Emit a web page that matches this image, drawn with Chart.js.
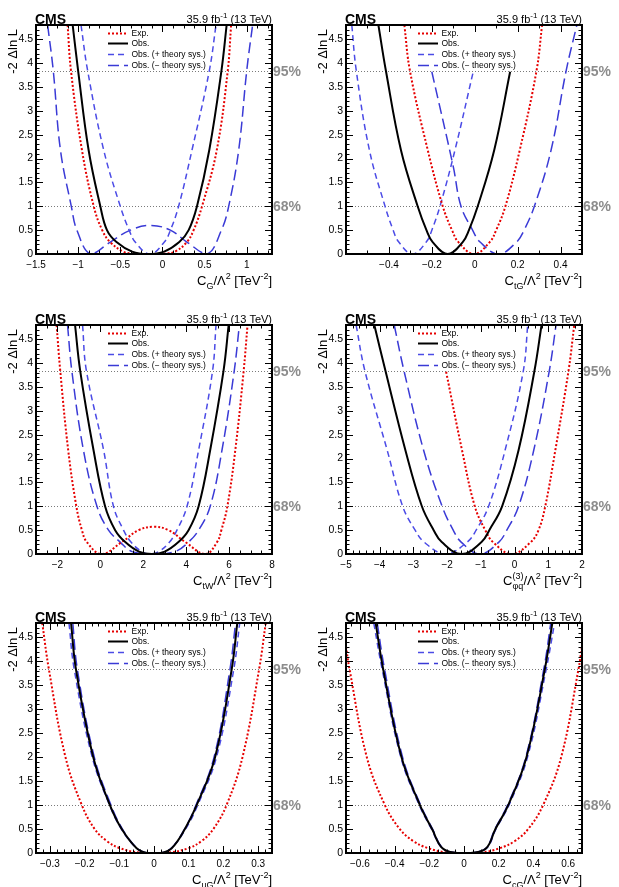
<!DOCTYPE html>
<html lang="en">
  <head>
    <meta charset="UTF-8" />
    <title>CMS likelihood scans of EFT coefficients</title>
    <script src="https://cdn.jsdelivr.net/npm/chart.js"></script>
    <style>
      body { margin: 0; background: #fff; }
      .page { position: relative; width: 619px; height: 887px; overflow: hidden; }
      .page canvas { position: absolute; }
    </style>
  </head>
  <body>
    <div class="page">
      <canvas id="cG" width="310" height="300" style="left:0px;top:0px"></canvas>
      <canvas id="ctG" width="309" height="300" style="left:310px;top:0px"></canvas>
      <canvas id="ctW" width="310" height="296" style="left:0px;top:296px"></canvas>
      <canvas id="cphiq" width="309" height="296" style="left:310px;top:296px"></canvas>
      <canvas id="cuG" width="310" height="297" style="left:0px;top:590px"></canvas>
      <canvas id="ccG" width="309" height="297" style="left:310px;top:590px"></canvas>
    </div>

    <script>
      // -2 delta ln L scans
      // C_G
      const cgExpX = [-1.125, -1.085, -0.955, -0.815, -0.715, -0.62, -0.465, -0.365, -0.165, 0.035, 0.15, 0.29, 0.37, 0.47, 0.645, 0.775, 0.815];
      const cgExpY = [4.8, 3.84, 2.18, 1.0, 0.5, 0.25, 0.05, 0.01, 0.0, 0.01, 0.05, 0.25, 0.5, 1.0, 2.18, 3.84, 4.8];
      const cgObsX = [-1.065, -1.0, -0.876, -0.737, -0.658, -0.545, -0.36, -0.17, 0.02, 0.2, 0.311, 0.41, 0.556, 0.7, 0.762];
      const cgObsY = [4.8, 3.84, 2.18, 1.0, 0.5, 0.25, 0.05, 0.0, 0.05, 0.25, 0.5, 1.0, 2.18, 3.84, 4.8];
      const cgPlusX = [-0.966, -0.887, -0.697, -0.5, -0.395, -0.323, -0.15, 0.023, 0.095, 0.192, 0.351, 0.556, 0.636];
      const cgPlusY = [4.8, 3.84, 2.18, 1.0, 0.5, 0.25, 0.0, 0.25, 0.5, 1.0, 2.18, 3.84, 4.8];
      const cgMinusX = [-1.362, -1.295, -1.21, -1.081, -1.015, -0.85, -0.618, -0.38, -0.14, 0.094, 0.29, 0.53, 0.7, 0.786, 0.905, 1.0, 1.07];
      const cgMinusY = [4.8, 3.84, 2.18, 1.0, 0.5, 0.0, 0.25, 0.5, 0.6, 0.5, 0.25, 0.0, 0.5, 1.0, 2.18, 3.84, 4.8];

      // C_tG
      const ctgExpX = [-0.328, -0.302, -0.219, -0.149, -0.106, -0.076, -0.003, 0.07, 0.1, 0.143, 0.21, 0.288, 0.314];
      const ctgExpY = [4.8, 3.84, 2.18, 1.0, 0.5, 0.25, 0.0, 0.25, 0.5, 1.0, 2.18, 3.84, 4.8];
      const ctgObsX = [-0.449, -0.414, -0.344, -0.266, -0.225, -0.196, -0.126, -0.056, -0.027, 0.014, 0.091, 0.165];
      const ctgObsY = [4.8, 3.84, 2.18, 1.0, 0.5, 0.25, 0.0, 0.25, 0.5, 1.0, 2.18, 3.82];
      const ctgPlusX = [-0.573, -0.552, -0.491, -0.418, -0.38, -0.354, -0.29, -0.226, -0.2, -0.162, -0.092, -0.007];
      const ctgPlusY = [4.8, 3.84, 2.18, 1.0, 0.5, 0.25, 0.0, 0.25, 0.5, 1.0, 2.18, 3.82];
      const ctgMinusX = [-0.2, -0.1, -0.064, -0.01, 0.025, 0.11, 0.195, 0.23, 0.278, 0.356, 0.426, 0.476];
      const ctgMinusY = [3.82, 1.83, 1.0, 0.5, 0.25, 0.0, 0.25, 0.5, 1.0, 2.18, 3.84, 4.8];

      // C_tW
      const ctwExpX = [-2.04, -1.87, -1.5, -1.12, -0.86, -0.63, 0.05, 1.0, 1.78, 2.48, 3.18, 3.96, 4.9, 5.44, 5.64, 5.92, 6.29, 6.68, 6.86];
      const ctwExpY = [4.8, 3.84, 2.18, 1.0, 0.5, 0.25, 0.0, 0.25, 0.5, 0.57, 0.5, 0.25, 0.0, 0.25, 0.5, 1.0, 2.18, 3.84, 4.8];
      const ctwObsX = [-1.18, -0.94, -0.32, 0.22, 0.69, 1.16, 1.8, 2.4, 3.0, 3.64, 4.11, 4.58, 5.12, 5.74, 5.98];
      const ctwObsY = [4.8, 3.84, 2.18, 1.0, 0.5, 0.25, 0.05, 0.0, 0.05, 0.25, 0.5, 1.0, 2.18, 3.84, 4.8];
      const ctwPlusX = [-0.83, -0.65, 0.15, 0.61, 1.08, 1.425, 1.93, 2.325, 2.72, 3.225, 3.57, 4.04, 4.58, 5.23, 5.39];
      const ctwPlusY = [4.8, 3.84, 2.18, 1.0, 0.5, 0.25, 0.05, 0.0, 0.05, 0.25, 0.5, 1.0, 2.18, 3.84, 4.8];
      const ctwMinusX = [-1.53, -1.33, -0.79, -0.16, 0.38, 0.92, 1.48, 2.48, 3.48, 4.11, 4.58, 5.12, 5.67, 6.24, 6.48];
      const ctwMinusY = [4.8, 3.84, 2.18, 1.0, 0.5, 0.25, 0.05, 0.0, 0.05, 0.25, 0.5, 1.0, 2.18, 3.84, 4.8];

      // C_phiq(3)
      const cpqExpX = [-2.03, -1.56, -1.18, -0.87, -0.64, -0.08, 0.48, 0.71, 0.91, 1.21, 1.6, 1.77];
      const cpqExpY = [3.82, 2.18, 1.0, 0.5, 0.25, 0.0, 0.25, 0.5, 1.0, 2.18, 3.84, 4.8];
      const cpqObsX = [-4.16, -3.83, -3.24, -2.75, -2.4, -2.16, -1.57, -0.98, -0.75, -0.37, 0.12, 0.59, 0.8];
      const cpqObsY = [4.8, 3.84, 2.18, 1.0, 0.5, 0.25, 0.0, 0.25, 0.5, 1.0, 2.18, 3.84, 4.8];
      const cpqPlusX = [-4.7, -4.44, -3.78, -3.32, -2.95, -2.685, -2.045, -1.405, -1.14, -0.77, -0.28, 0.26, 0.39];
      const cpqPlusY = [4.8, 3.84, 2.18, 1.0, 0.5, 0.25, 0.0, 0.25, 0.5, 1.0, 2.18, 3.84, 4.8];
      const cpqMinusX = [-3.57, -3.28, -2.7, -2.15, -1.82, -1.585, -1.025, -0.465, -0.23, 0.12, 0.57, 1.03, 1.23];
      const cpqMinusY = [4.8, 3.84, 2.18, 1.0, 0.5, 0.25, 0.0, 0.25, 0.5, 1.0, 2.18, 3.84, 4.8];

      // C_uG
      const cugExpX = [-0.322, -0.303, -0.255, -0.208, -0.171, -0.136, -0.098, -0.045, 0.0, 0.045, 0.099, 0.137, 0.171, 0.209, 0.255, 0.303, 0.322];
      const cugExpY = [4.8, 3.84, 2.0, 1.0, 0.5, 0.25, 0.1, 0.01, 0.0, 0.01, 0.1, 0.25, 0.5, 1.0, 2.0, 3.84, 4.8];
      const cugObsX = [-0.239, -0.225, -0.175, -0.127, -0.093, -0.05, -0.02, 0.02, 0.051, 0.089, 0.123, 0.176, 0.224, 0.24];
      const cugObsY = [4.8, 3.84, 2.0, 1.0, 0.5, 0.1, 0.0, 0.0, 0.1, 0.5, 1.0, 2.0, 3.84, 4.8];
      const cugPlusX = [-0.245, -0.23, -0.178, -0.128, -0.094, -0.05, -0.02, 0.02, 0.05, 0.091, 0.126, 0.18, 0.23, 0.247];
      const cugPlusY = [4.8, 3.84, 2.0, 1.0, 0.5, 0.1, 0.0, 0.0, 0.1, 0.5, 1.0, 2.0, 3.84, 4.8];
      const cugMinusX = [-0.234, -0.221, -0.172, -0.124, -0.091, -0.049, -0.02, 0.02, 0.05, 0.088, 0.121, 0.173, 0.219, 0.235];
      const cugMinusY = [4.8, 3.84, 2.0, 1.0, 0.5, 0.1, 0.0, 0.0, 0.1, 0.5, 1.0, 2.0, 3.84, 4.8];

      // C_cG
      const ccgExpX = [-0.68, -0.66, -0.56, -0.456, -0.37, -0.293, -0.206, -0.1, 0.0, 0.1, 0.206, 0.293, 0.37, 0.456, 0.56, 0.66, 0.68];
      const ccgExpY = [4.31, 3.84, 2.0, 1.0, 0.5, 0.25, 0.1, 0.01, 0.0, 0.01, 0.1, 0.25, 0.5, 1.0, 2.0, 3.84, 4.31];
      const ccgObsX = [-0.509, -0.466, -0.36, -0.254, -0.184, -0.124, -0.04, 0.04, 0.128, 0.181, 0.255, 0.36, 0.466, 0.509];
      const ccgObsY = [4.8, 3.84, 2.0, 1.0, 0.5, 0.1, 0.0, 0.0, 0.1, 0.5, 1.0, 2.0, 3.84, 4.8];
      const ccgPlusX = [-0.52, -0.472, -0.364, -0.258, -0.187, -0.125, -0.04, 0.04, 0.13, 0.184, 0.259, 0.366, 0.474, 0.522];
      const ccgPlusY = [4.8, 3.84, 2.0, 1.0, 0.5, 0.1, 0.0, 0.0, 0.1, 0.5, 1.0, 2.0, 3.84, 4.8];
      const ccgMinusX = [-0.5, -0.458, -0.354, -0.25, -0.181, -0.122, -0.04, 0.04, 0.126, 0.178, 0.251, 0.356, 0.46, 0.5];
      const ccgMinusY = [4.8, 3.84, 2.0, 1.0, 0.5, 0.1, 0.0, 0.0, 0.1, 0.5, 1.0, 2.0, 3.84, 4.8];

      // confidence level lines
      const clLevels = [3.84, 1];
      const clLabels = ["95%", "68%"];

      const legendLabels = ["Exp.", "Obs.", "Obs. (+ theory sys.)", "Obs. (\u2212 theory sys.)"];

      // axis titles: [text, mode, stackedSubscript]
      const tail = [["/\u039b"], ["2", "sup"], [" [TeV"], ["-2", "sup"], ["]"]];
      const cgTitle = [["C"], ["G", "sub"], ...tail];
      const ctgTitle = [["C"], ["tG", "sub"], ...tail];
      const ctwTitle = [["C"], ["tW", "sub"], ...tail];
      const cpqTitle = [["C"], ["(3)", "stack", "\u03c6q"], ...tail];
      const cugTitle = [["C"], ["uG", "sub"], ...tail];
      const ccgTitle = [["C"], ["cG", "sub"], ...tail];

      const FONT = "'Liberation Sans', Arial, Helvetica, sans-serif";
      Chart.defaults.font.family = FONT;
      Chart.defaults.color = "#000";

      const styles = [
        { borderColor: "#e60000", borderWidth: 2, borderDash: [2, 2], order: 1 },
        { borderColor: "#000000", borderWidth: 2, borderDash: [], order: 0 },
        { borderColor: "#4b4be6", borderWidth: 1.5, borderDash: [6, 4], order: 2 },
        { borderColor: "#3a3ad6", borderWidth: 1.5, borderDash: [11, 5], order: 3 },
      ];

      const panels = [
        { id: "cG", top: 25, bottom: 254, xMin: -1.5, xMax: 1.3, step: 0.5, minor: 4, title: cgTitle,
          curves: [[cgExpX, cgExpY], [cgObsX, cgObsY], [cgPlusX, cgPlusY], [cgMinusX, cgMinusY]] },
        { id: "ctG", top: 25, bottom: 254, xMin: -0.6, xMax: 0.5, step: 0.2, minor: 2, title: ctgTitle,
          curves: [[ctgExpX, ctgExpY], [ctgObsX, ctgObsY], [ctgPlusX, ctgPlusY], [ctgMinusX, ctgMinusY]] },
        { id: "ctW", top: 29, bottom: 258, xMin: -3, xMax: 8, step: 2, minor: 4, title: ctwTitle,
          curves: [[ctwExpX, ctwExpY], [ctwObsX, ctwObsY], [ctwPlusX, ctwPlusY], [ctwMinusX, ctwMinusY]] },
        { id: "cphiq", top: 29, bottom: 258, xMin: -5, xMax: 2, step: 1, minor: 5, title: cpqTitle,
          curves: [[cpqExpX, cpqExpY], [cpqObsX, cpqObsY], [cpqPlusX, cpqPlusY], [cpqMinusX, cpqMinusY]] },
        { id: "cuG", top: 33, bottom: 263, xMin: -0.34, xMax: 0.34, step: 0.1, minor: 5, title: cugTitle,
          curves: [[cugExpX, cugExpY], [cugObsX, cugObsY], [cugPlusX, cugPlusY], [cugMinusX, cugMinusY]] },
        { id: "ccG", top: 33, bottom: 263, xMin: -0.68, xMax: 0.68, step: 0.2, minor: 4, title: ccgTitle,
          curves: [[ccgExpX, ccgExpY], [ccgObsX, ccgObsY], [ccgPlusX, ccgPlusY], [ccgMinusX, ccgMinusY]] },
      ];

      function fmt(v) {
        const r = Math.round(v * 1000) / 1000;
        if (r === 0) return "0";
        return String(r).replace("-", "\u2212");
      }

      // inward ROOT-style ticks on both sides of an axis
      function drawTicks(ctx, scale, area, minor, horizontal) {
        const major = scale.ticks.map((t) => t.value);
        const step = (major[1] - major[0]) / minor;
        let v = major[0] - Math.floor((major[0] - scale.min) / step + 1e-6) * step;
        ctx.beginPath();
        for (; v <= scale.max + 1e-9; v += step) {
          const isMajor = major.some((m) => Math.abs(m - v) < step * 1e-3);
          const len = isMajor ? 7 : 3.5;
          const p = Math.round(scale.getPixelForValue(v)) + 0.5;
          if (horizontal) {
            ctx.moveTo(p, area.bottom); ctx.lineTo(p, area.bottom - len);
            ctx.moveTo(p, area.top); ctx.lineTo(p, area.top + len);
          } else {
            ctx.moveTo(area.left, p); ctx.lineTo(area.left + len, p);
            ctx.moveTo(area.right, p); ctx.lineTo(area.right - len, p);
          }
        }
        ctx.stroke();
      }

      function drawRich(ctx, parts, xRight, yBase, size) {
        const big = size + "px " + FONT;
        const small = Math.round(size * 0.72) + "px " + FONT;
        const widths = parts.map(([t, mode, sub]) => {
          ctx.font = mode ? small : big;
          let w = ctx.measureText(t).width;
          if (mode === "stack") w = Math.max(w, ctx.measureText(sub).width);
          return w;
        });
        let x = xRight - widths.reduce((a, b) => a + b, 0);
        ctx.textAlign = "left";
        ctx.textBaseline = "alphabetic";
        parts.forEach(([t, mode, sub], i) => {
          ctx.font = mode ? small : big;
          if (!mode) ctx.fillText(t, x, yBase);
          else if (mode === "sub") ctx.fillText(t, x, yBase + size * 0.28);
          else if (mode === "sup") ctx.fillText(t, x, yBase - size * 0.45);
          else {
            ctx.fillText(t, x, yBase - size * 0.5);
            ctx.fillText(sub, x, yBase + size * 0.3);
          }
          x += widths[i];
        });
      }

      function rootLook(p) {
        return {
          id: "rootLook",
          beforeDatasetsDraw(chart) {
            const { ctx, chartArea: a, scales } = chart;
            ctx.save();
            ctx.strokeStyle = "#7a7a7a";
            ctx.lineWidth = 1;
            ctx.setLineDash([1, 2]);
            clLevels.forEach((lvl) => {
              const py = Math.round(scales.y.getPixelForValue(lvl)) + 0.5;
              ctx.beginPath();
              ctx.moveTo(a.left, py);
              ctx.lineTo(a.right, py);
              ctx.stroke();
            });
            ctx.restore();
          },
          afterDraw(chart) {
            const { ctx, chartArea: a, scales } = chart;
            ctx.save();
            // frame + ticks
            ctx.strokeStyle = "#000";
            ctx.lineWidth = 1;
            drawTicks(ctx, scales.x, a, p.minor, true);
            drawTicks(ctx, scales.y, a, 5, false);
            ctx.lineWidth = 2;
            ctx.strokeRect(a.left, a.top, a.right - a.left, a.bottom - a.top);

            // CL labels
            ctx.fillStyle = "#8c8c8c";
            ctx.font = "bold 14px " + FONT;
            ctx.textAlign = "left";
            ctx.textBaseline = "middle";
            clLevels.forEach((lvl, i) => {
              ctx.fillText(clLabels[i], a.right + 1, scales.y.getPixelForValue(lvl) + 1);
            });

            // legend
            ctx.font = "8.5px " + FONT;
            chart.data.datasets.forEach((ds, i) => {
              const ly = Math.round(a.top + 7.5 + i * 10.9) + 0.5;
              ctx.strokeStyle = ds.borderColor;
              ctx.lineWidth = ds.borderWidth;
              ctx.setLineDash(ds.borderDash);
              ctx.beginPath();
              ctx.moveTo(a.left + 72, ly);
              ctx.lineTo(a.left + 92, ly);
              ctx.stroke();
              ctx.fillStyle = "#000";
              ctx.fillText(ds.label, a.left + 95.5, ly);
            });
            ctx.setLineDash([]);

            // CMS + lumi
            ctx.fillStyle = "#000";
            ctx.textBaseline = "alphabetic";
            ctx.font = "bold 14px " + FONT;
            ctx.fillText("CMS", a.left - 1, a.top - 1);
            drawRich(ctx, [["35.9 fb"], ["-1", "sup"], [" (13 TeV)"]], a.right, a.top - 2, 11);

            // axis titles
            drawRich(ctx, p.title, a.right, a.bottom + 31, 13);
            ctx.translate(16.5, a.top + 4);
            ctx.rotate(-Math.PI / 2);
            ctx.font = "13px " + FONT;
            ctx.textAlign = "right";
            ctx.fillText("-2 \u0394ln L", 0, 0);
            ctx.restore();
          },
        };
      }

      panels.forEach((p) => {
        const canvas = document.getElementById(p.id);
        new Chart(canvas, {
          type: "scatter",
          data: {
            datasets: p.curves.map(([xs, ys], i) => ({
              label: legendLabels[i],
              data: xs.map((x, k) => ({ x: x, y: ys[k] })),
              showLine: true,
              pointRadius: 0,
              tension: 0.4,
              clip: 0,
              ...styles[i],
            })),
          },
          options: {
            responsive: false,
            animation: false,
            devicePixelRatio: 1,
            events: [],
            layout: { padding: { left: 6, right: canvas.width - 272, top: p.top, bottom: 0 } },
            plugins: { legend: { display: false }, tooltip: { enabled: false } },
            scales: {
              x: {
                type: "linear",
                min: p.xMin,
                max: p.xMax,
                grid: { display: false, drawTicks: false },
                border: { display: false },
                ticks: { stepSize: p.step, includeBounds: false, autoSkip: false, maxRotation: 0,
                         padding: 5, font: { size: 10 }, callback: fmt },
                afterFit: (s) => { s.height = canvas.height - p.bottom; s.paddingLeft = 0; s.paddingRight = 0; },
              },
              y: {
                min: 0,
                max: 4.8,
                grid: { display: false, drawTicks: false },
                border: { display: false },
                ticks: { stepSize: 0.5, includeBounds: false, autoSkip: false, padding: 3,
                         font: { size: 10.5 }, callback: fmt },
                afterFit: (s) => { s.width = 30; s.paddingTop = 0; s.paddingBottom = 0; },
              },
            },
          },
          plugins: [rootLook(p)],
        });
      });
    </script>
  </body>
</html>
